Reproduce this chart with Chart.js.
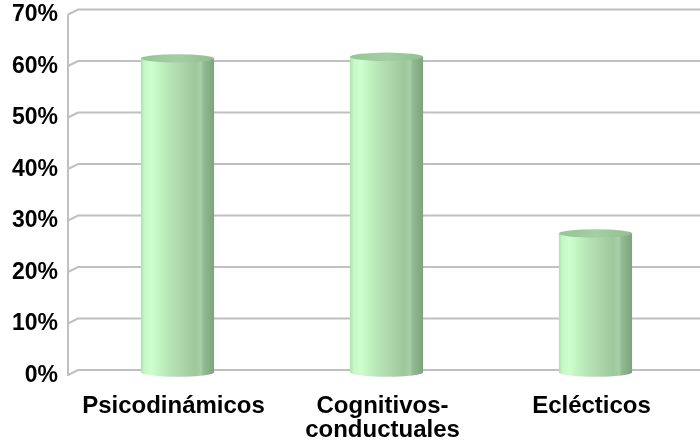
<!DOCTYPE html>
<html>
<head>
<meta charset="utf-8">
<script src="https://cdn.jsdelivr.net/npm/chart.js@4/dist/chart.umd.min.js"></script>
<style>
  html, body { margin: 0; padding: 0; background: #fff; }
  #wrap { width: 700px; height: 447px; position: relative; }
</style>
</head>
<body>
<div id="wrap"><canvas id="c" width="700" height="447"></canvas></div>
<script>
// Orientation categories and share of respondents (%)
const categories = ['Psicodinámicos', ['Cognitivos-', 'conductuales'], 'Eclécticos'];
const shares = [61, 61.3, 27];
const yTicks = [0, 10, 20, 30, 40, 50, 60, 70];

// Depth offsets for the pseudo-3D frame
const DEPTH_X = 5, DEPTH_Y = 2.5;
const GRID = '#c0c0c0';

const frame3d = {
  id: 'frame3d',
  beforeDatasetsDraw(chart) {
    const ctx = chart.ctx;
    const y = chart.scales.y;
    const area = chart.chartArea;
    const frontX = area.left - DEPTH_X;
    const backX = area.left + DEPTH_X;
    ctx.save();
    ctx.strokeStyle = GRID;
    ctx.lineWidth = 2;
    // wall gridlines with short diagonals to the front axis
    yTicks.forEach(v => {
      const py = y.getPixelForValue(v);
      ctx.beginPath();
      ctx.moveTo(frontX, py + DEPTH_Y);
      ctx.lineTo(backX, py - DEPTH_Y);
      ctx.lineTo(chart.width, py - DEPTH_Y);
      ctx.stroke();
    });
    // front vertical axis
    ctx.beginPath();
    ctx.moveTo(frontX, y.getPixelForValue(70) + DEPTH_Y);
    ctx.lineTo(frontX, y.getPixelForValue(0) + DEPTH_Y + 1);
    ctx.stroke();
    ctx.restore();
  }
};

const cylinders = {
  id: 'cylinders',
  afterDatasetsDraw(chart) {
    const ctx = chart.ctx;
    const meta = chart.getDatasetMeta(0);
    const ry = 4.2;
    meta.data.forEach(el => {
      const cx = el.x, hw = el.width / 2;
      const top = el.y, base = el.base;
      const l = cx - hw, r = cx + hw;
      const g = ctx.createLinearGradient(l, 0, r, 0);
      g.addColorStop(0.00, 'rgb(178,222,178)');
      g.addColorStop(0.05, 'rgb(198,248,198)');
      g.addColorStop(0.14, 'rgb(205,255,205)');
      g.addColorStop(0.35, 'rgb(186,232,186)');
      g.addColorStop(0.55, 'rgb(172,216,172)');
      g.addColorStop(0.74, 'rgb(156,200,156)');
      g.addColorStop(0.82, 'rgb(166,208,166)');
      g.addColorStop(0.86, 'rgb(144,186,144)');
      g.addColorStop(1.00, 'rgb(124,164,124)');
      ctx.save();
      // body
      ctx.beginPath();
      ctx.moveTo(l, top);
      ctx.lineTo(l, base);
      ctx.ellipse(cx, base, hw, ry, 0, Math.PI, 0, true);
      ctx.lineTo(r, top);
      ctx.closePath();
      ctx.fillStyle = g;
      ctx.fill();
      // top face
      const tg = ctx.createLinearGradient(l, 0, r, 0);
      tg.addColorStop(0, 'rgb(150,196,150)');
      tg.addColorStop(0.5, 'rgb(164,206,164)');
      tg.addColorStop(1, 'rgb(146,190,146)');
      ctx.beginPath();
      ctx.ellipse(cx, top, hw, ry, 0, 0, Math.PI * 2);
      ctx.fillStyle = tg;
      ctx.fill();
      ctx.restore();
    });
  }
};

const family = '"Liberation Sans", Arial, sans-serif';
const xFont = { family, size: 24, weight: 'bold', lineHeight: 1.0 };
const yFont = { family, size: 23, weight: 'bold', lineHeight: 1.1 };

new Chart(document.getElementById('c'), {
  type: 'bar',
  data: {
    labels: categories,
    datasets: [{
      data: shares,
      backgroundColor: 'rgba(0,0,0,0)',
      borderWidth: 0,
      categoryPercentage: 1,
      barPercentage: 0.35
    }]
  },
  options: {
    responsive: false,
    animation: false,
    devicePixelRatio: 1,
    layout: { padding: { top: 12, right: -4, left: 0, bottom: 0 } },
    plugins: { legend: { display: false }, tooltip: { enabled: false } },
    scales: {
      x: {
        grid: { display: false, drawTicks: false },
        border: { display: false },
        ticks: { color: '#000', font: xFont, padding: 22, labelOffset: -4, maxRotation: 0, autoSkip: false },
        afterFit(s) { s.height = 74.5; s.paddingLeft = 0; s.paddingRight = 0; }
      },
      y: {
        min: 0, max: 70,
        grid: { display: false, drawTicks: false },
        border: { display: false },
        ticks: {
          stepSize: 10, color: '#000', font: yFont, padding: 15, labelOffset: 3,
          callback: v => v + '%'
        },
        afterFit(s) { s.width = 73; s.paddingTop = 0; s.paddingBottom = 0; }
      }
    }
  },
  plugins: [frame3d, cylinders]
});
</script>
</body>
</html>
